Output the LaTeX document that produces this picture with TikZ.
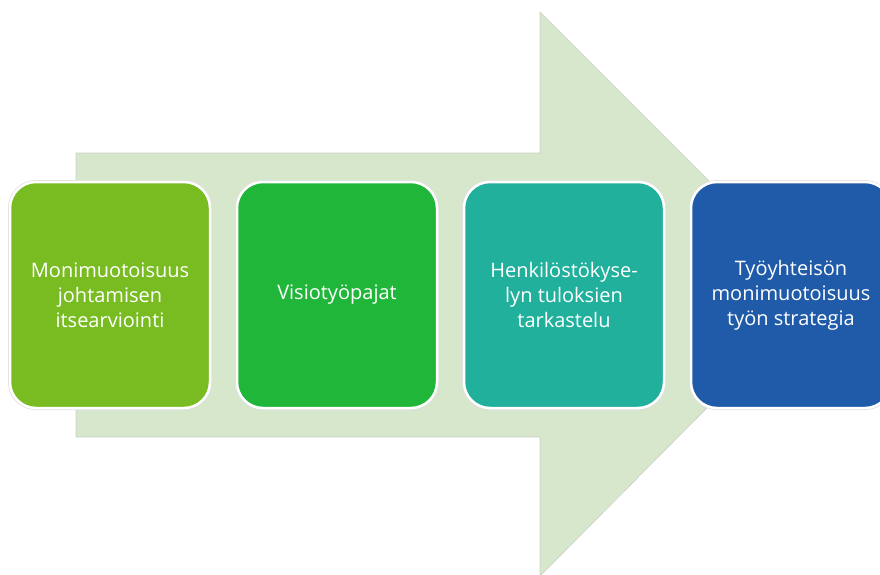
\documentclass[tikz,border=0pt]{standalone}
\usepackage{fontspec}
\setmainfont{Open Sans}
\definecolor{arrowfill}{HTML}{D6E7CC}
\definecolor{arrowline}{HTML}{C9CFC6}
\definecolor{cA}{HTML}{78BC22}
\definecolor{cB}{HTML}{20B63A}
\definecolor{cC}{HTML}{20B09C}
\definecolor{cD}{HTML}{1F5BA8}
\begin{document}
\begin{tikzpicture}[x=1pt,y=-1pt,
  stepbox/.style={draw=white,line width=2.5pt,rounded corners=26pt,minimum width=200pt,minimum height=226pt,
    align=center,text=white,font=\fontsize{20}{25}\selectfont,inner sep=0pt},
  shade/.style={draw=black!12,line width=4pt,rounded corners=26pt}]
\useasboundingbox (0,0) rectangle (880,574);
\clip (0,0) rectangle (880,574);
\draw[fill=arrowfill,draw=arrowline,line width=0.6pt]
  (76,153) -- (540,153) -- (540,12) -- (821,293) -- (540,576) -- (540,437) -- (76,437) -- cycle;
\foreach \cx in {110,337,564,791}{
  \draw[shade] (\cx-100,182) rectangle (\cx+100,408);
}
\node[stepbox,fill=cA] (a) at (110,295) {Monimuotoisuus\\johtamisen\\itsearviointi};
\node[stepbox,fill=cB] (b) at (337,295) {Visiotyöpajat};
\node[stepbox,fill=cC] (c) at (564,295) {Henkilöstökyse-\\lyn tuloksien\\tarkastelu};
\node[stepbox,fill=cD] (d) at (791,295) {Työyhteisön\\monimuotoisuus\\työn strategia};
\end{tikzpicture}
\end{document}
